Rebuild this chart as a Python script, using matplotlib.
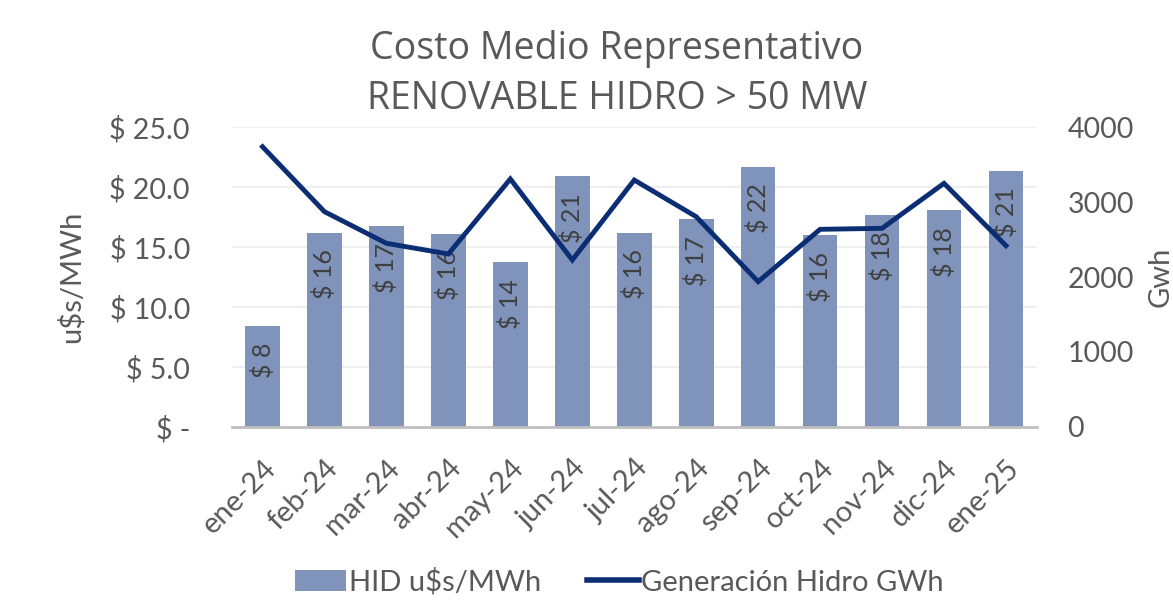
import numpy as np
import matplotlib as mpl

mpl.use("Agg")
import matplotlib.pyplot as plt
from matplotlib.lines import Line2D
from matplotlib.patches import Patch

mpl.rcParams.update({"font.family": ["Lato", "DejaVu Sans"], "text.color": "#595959"})

months = ["ene-24", "feb-24", "mar-24", "abr-24", "may-24", "jun-24", "jul-24",
          "ago-24", "sep-24", "oct-24", "nov-24", "dic-24", "ene-25"]
cost_usd_mwh = [8.4, 16.2, 16.75, 16.1, 13.75, 20.9, 16.2, 17.3, 21.7, 16.0, 17.7, 18.05, 21.35]
gen_gwh = [3737, 2871, 2449, 2307, 3307, 2227, 3293, 2804, 1938, 2636, 2649, 3249, 2418]
left_ticks = [0, 5, 10, 15, 20, 25]
left_labels = ["$ -", "$ 5.0", "$ 10.0", "$ 15.0", "$ 20.0", "$ 25.0"]
right_ticks = [0, 1000, 2000, 3000, 4000]

GREY = "#595959"
BAR = "#7f93bb"
LINE = "#0b2d73"

fig = plt.figure(figsize=(11.73, 6.06), dpi=100, facecolor="white")
ax = fig.add_axes([0.1974, 0.2954, 0.6866, 0.495])
ax2 = ax.twinx()

x = np.arange(len(months))
ax.bar(x, cost_usd_mwh, width=0.56, color=BAR, zorder=2)
for xi, v in zip(x, cost_usd_mwh):
    ax.annotate(f"$ {v:.0f}", (xi, v), xytext=(0, -12), textcoords="offset points",
                rotation=90, ha="center", va="top", fontsize=18, color="#404040", zorder=3)

ax2.plot(x, gen_gwh, color=LINE, lw=3.5, solid_joinstyle="miter", zorder=4)

ax.set_xlim(-0.5, len(months) - 0.5)
ax.set_ylim(0, 25)
ax2.set_ylim(0, 4000)
ax.set_yticks(left_ticks)
ax.set_yticklabels(left_labels)
ax2.set_yticks(right_ticks)
ax.yaxis.grid(True, color="#efefef", lw=1.5, zorder=0)
ax.set_axisbelow(True)

ax.set_xticks(x)
ax.set_xticklabels(months, rotation=45, ha="right", rotation_mode="anchor")
for a in (ax, ax2):
    a.tick_params(length=0, colors=GREY, labelsize=20.5)
    for s in a.spines.values():
        s.set_visible(False)
ax.tick_params(axis="x", labelsize=21, pad=20)
ax.tick_params(axis="y", pad=30)
ax2.tick_params(axis="y", pad=22)
ax.spines["bottom"].set_visible(True)
ax.spines["bottom"].set_color("#bfbfbf")
ax.spines["bottom"].set_linewidth(2)

ax.set_ylabel("u$s/MWh", fontsize=21, color=GREY, labelpad=18)
ax2.set_ylabel("Gwh", fontsize=21, color=GREY, labelpad=10)

fig.suptitle("Costo Medio Representativo\nRENOVABLE HIDRO > 50 MW", x=0.526, y=0.95,
             va="top", fontsize=27, color=GREY, linespacing=1.4, family="Open Sans")

handles = [Patch(facecolor=BAR, edgecolor="none", label="HID u$s/MWh"),
           Line2D([], [], color=LINE, lw=4, label="Generación Hidro GWh")]
fig.legend(handles=handles, loc="center", bbox_to_anchor=(0.528, 0.04), ncol=2,
           frameon=False, fontsize=21, handlelength=1.75, handletextpad=0.1,
           columnspacing=1.6)

fig.savefig("out.png", dpi=100, facecolor="white")
